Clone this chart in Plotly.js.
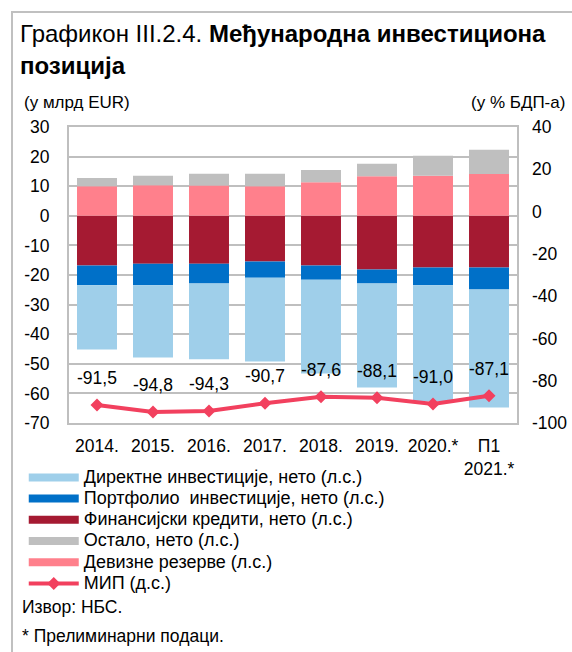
<!DOCTYPE html>
<html>
<head>
<meta charset="utf-8">
<script src="https://cdn.plot.ly/plotly-3.0.1.min.js"></script>
<style>
  html, body { margin: 0; padding: 0; background: #fff; }
  #frame { position: absolute; left: 11px; top: 11px; width: 600px; height: 700px;
           border-left: 2px solid #c0c0c0; border-top: 2px solid #c0c0c0; }
  #chart { position: absolute; left: 0; top: 0; width: 572px; height: 652px; }
  .legendtext { font-size: 18px !important; }
</style>
</head>
<body>
<div id="frame"></div>
<div id="chart"></div>
<script>
// ---- data ----
const categories = ['2014.', '2015.', '2016.', '2017.', '2018.', '2019.', '2020.*', 'П1<br>2021.*'];
const direct    = [-21.7, -24.4, -25.6, -28.3, -31.7, -35.1, -39.2, -39.9];
const portfolio = [-6.7, -7.3, -6.7, -5.5, -4.8, -4.8, -6.0, -7.4];
const financial = [-16.8, -16.2, -16.2, -15.4, -16.8, -18.1, -17.5, -17.5];
const other     = [2.8, 3.2, 4.0, 4.2, 4.2, 4.2, 6.8, 8.2];
const reserves  = [10.0, 10.3, 10.2, 10.0, 11.3, 13.4, 13.5, 14.1];
const mip       = [-91.5, -94.8, -94.3, -90.7, -87.6, -88.1, -91.0, -87.1];

// tick labels (hyphen minus, as in the reference)
const leftTicks  = [30, 20, 10, 0, -10, -20, -30, -40, -50, -60, -70];
const rightTicks = [40, 20, 0, -20, -40, -60, -80, -100];

const names = {
  direct: 'Директне инвестиције, нето (л.с.)',
  portfolio: 'Портфолио  инвестиције, нето (л.с.)',
  financial: 'Финансијски кредити, нето (л.с.)',
  other: 'Остало, нето (л.с.)',
  reserves: 'Девизне резерве (л.с.)',
  mip: 'МИП (д.с.)'
};
const colors = {
  direct: '#9fcfea', portfolio: '#0070c8', financial: '#a51a32',
  other: '#bfbfbf', reserves: '#ff808c', mip: '#f2405e'
};

const FONT = 'Arial, "Liberation Sans", sans-serif';

function barTrace(key, vals) {
  return { type: 'bar', x: categories.slice(), y: vals.slice(), name: names[key],
           marker: { color: colors[key], line: { width: 0 } },
           showlegend: false, xaxis: 'x', yaxis: 'y' };
}
function legendProxy(key) {
  return { type: 'scatter', mode: 'lines', x: [null], y: [null],
           name: names[key], line: { color: colors[key], width: 8 },
           showlegend: true, xaxis: 'x', yaxis: 'y' };
}

const traces = [
  barTrace('financial', financial),
  barTrace('portfolio', portfolio),
  barTrace('direct', direct),
  barTrace('reserves', reserves),
  barTrace('other', other),
  legendProxy('direct'),
  legendProxy('portfolio'),
  legendProxy('financial'),
  legendProxy('other'),
  legendProxy('reserves'),
  { type: 'scatter', mode: 'lines+markers', x: categories.slice(), y: mip.slice(),
    xaxis: 'x', yaxis: 'y2',
    name: names.mip, line: { color: colors.mip, width: 4 },
    marker: { symbol: 'diamond', size: 10, color: colors.mip } }
];

const labelAnnotations = mip.map((v, i) => ({
  x: i, y: v, xref: 'x', yref: 'y2',
  text: v.toFixed(1).replace('.', ','), showarrow: false,
  yshift: 27, font: { family: FONT, size: 17.5, color: '#000' }
}));

const layout = {
  width: 572, height: 652,
  paper_bgcolor: 'rgba(0,0,0,0)', plot_bgcolor: '#fff',
  margin: { l: 69, r: 55, t: 127, b: 229 },
  font: { family: FONT, size: 17, color: '#000' },
  title: {
    text: 'Графикон III.2.4. <b>Међународна инвестициона</b><br><b>позиција</b>',
    xref: 'container', yref: 'container', x: 0.035, xanchor: 'left',
    y: 0.935, yanchor: 'top', font: { family: FONT, size: 24, color: '#000' }
  },
  barmode: 'relative', bargap: 0.286,
  xaxis: {
    type: 'category', categoryorder: 'array', categoryarray: categories.slice(),
    range: [-0.5, categories.length - 0.5],
    showgrid: false, showline: true, mirror: true,
    linecolor: '#bfbfbf', linewidth: 2, ticks: '', ticklabelstandoff: 6,
    tickfont: { family: FONT, size: 17.5 }
  },
  yaxis: {
    range: [-70, 30], tickmode: 'array', tickvals: leftTicks,
    ticktext: leftTicks.map(String),
    showgrid: true, gridcolor: '#bfbfbf', gridwidth: 2,
    zeroline: false, showline: true, mirror: true, linecolor: '#bfbfbf', linewidth: 2,
    ticks: '', ticklabelstandoff: 14, tickfont: { family: FONT, size: 17.5 }
  },
  yaxis2: {
    range: [-100, 40], tickmode: 'array', tickvals: rightTicks,
    ticktext: rightTicks.map(String),
    overlaying: 'y', side: 'right', showgrid: false,
    zeroline: false, showline: false, ticks: '', ticklabelstandoff: 14,
    tickfont: { family: FONT, size: 17.5 }
  },
  legend: {
    x: -0.101, xanchor: 'left', y: -0.131, yanchor: 'top',
    font: { family: FONT, size: 14, color: '#000' }, bgcolor: 'rgba(0,0,0,0)',
    itemwidth: 50, tracegroupgap: 0, traceorder: 'normal'
  },
  annotations: labelAnnotations.concat([
    { xref: 'paper', yref: 'paper', x: -0.105, y: 1.084, xanchor: 'left', yanchor: 'middle',
      text: '(у млрд EUR)', showarrow: false, font: { family: FONT, size: 17 } },
    { xref: 'paper', yref: 'paper', x: 1.112, y: 1.084, xanchor: 'right', yanchor: 'middle',
      text: '(у % БДП-а)', showarrow: false, font: { family: FONT, size: 17 } },
    { xref: 'paper', yref: 'paper', x: -0.11, y: -0.622, xanchor: 'left', yanchor: 'middle',
      text: 'Извор: НБС.', showarrow: false, font: { family: FONT, size: 17.5 } },
    { xref: 'paper', yref: 'paper', x: -0.11, y: -0.72, xanchor: 'left', yanchor: 'middle',
      text: '* Прелиминарни подаци.', showarrow: false, font: { family: FONT, size: 17.5 } }
  ])
};

Plotly.newPlot('chart', traces, layout, { displayModeBar: false, staticPlot: true });
</script>
</body>
</html>
